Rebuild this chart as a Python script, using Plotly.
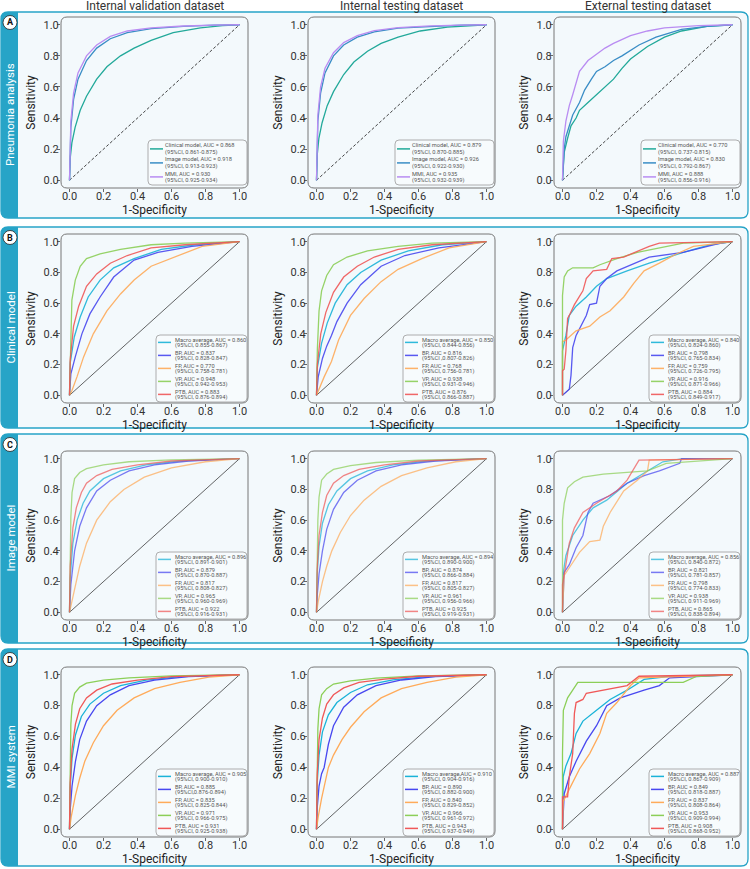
import plotly.graph_objects as go

W, H = 750, 869

COL_TITLES = ["Internal validation dataset", "Internal testing dataset", "External testing dataset"]
ROW_LETTERS = ["A", "B", "C", "D"]
ROW_LABELS = ["Pneumonia analysis", "Clinical model", "Image model", "MMI system"]
TICK_VALS = [0, 0.2, 0.4, 0.6, 0.8, 1.0]
TICK_TEXT = ["0.0", "0.2", "0.4", "0.6", "0.8", "1.0"]

# ---------------- Row A : pneumonia analysis ----------------
A1_clin_fpr = [0, 0.005, 0.014, 0.033, 0.063, 0.10, 0.16, 0.22, 0.30, 0.38, 0.48, 0.61, 0.77, 0.90, 1.0]
A1_clin_tpr = [0, 0.15, 0.24, 0.34, 0.45, 0.54, 0.65, 0.73, 0.80, 0.85, 0.90, 0.95, 0.98, 0.995, 1.0]
A1_img_fpr = [0, 0.003, 0.008, 0.024, 0.05, 0.10, 0.16, 0.24, 0.34, 0.48, 0.67, 0.85, 1.0]
A1_img_tpr = [0, 0.20, 0.34, 0.52, 0.65, 0.77, 0.85, 0.91, 0.95, 0.975, 0.99, 0.998, 1.0]
A1_mmi_fpr = [0, 0.003, 0.008, 0.024, 0.05, 0.10, 0.16, 0.24, 0.34, 0.48, 0.67, 0.85, 1.0]
A1_mmi_tpr = [0, 0.22, 0.38, 0.56, 0.69, 0.80, 0.87, 0.925, 0.96, 0.98, 0.992, 0.998, 1.0]

A2_clin_fpr = [0, 0.005, 0.014, 0.033, 0.063, 0.10, 0.16, 0.22, 0.30, 0.38, 0.48, 0.61, 0.77, 0.90, 1.0]
A2_clin_tpr = [0, 0.17, 0.27, 0.37, 0.48, 0.57, 0.68, 0.76, 0.83, 0.88, 0.92, 0.96, 0.985, 0.996, 1.0]
A2_img_fpr = [0, 0.003, 0.008, 0.024, 0.05, 0.10, 0.16, 0.24, 0.34, 0.48, 0.67, 0.85, 1.0]
A2_img_tpr = [0, 0.24, 0.38, 0.56, 0.69, 0.80, 0.87, 0.92, 0.955, 0.978, 0.99, 0.998, 1.0]
A2_mmi_fpr = [0, 0.003, 0.008, 0.024, 0.05, 0.10, 0.16, 0.24, 0.34, 0.48, 0.67, 0.85, 1.0]
A2_mmi_tpr = [0, 0.27, 0.42, 0.60, 0.72, 0.82, 0.885, 0.93, 0.962, 0.982, 0.993, 0.998, 1.0]

A3_clin_fpr = [0, 0.005, 0.01, 0.03, 0.05, 0.08, 0.10, 0.15, 0.20, 0.25, 0.30, 0.35, 0.40, 0.50, 0.60, 0.70, 0.85, 1.0]
A3_clin_tpr = [0, 0.10, 0.18, 0.27, 0.35, 0.40, 0.45, 0.50, 0.55, 0.60, 0.65, 0.72, 0.78, 0.86, 0.92, 0.96, 0.99, 1.0]
A3_img_fpr = [0, 0.01, 0.02, 0.04, 0.06, 0.10, 0.13, 0.17, 0.20, 0.25, 0.30, 0.35, 0.45, 0.55, 0.70, 0.85, 1.0]
A3_img_tpr = [0, 0.20, 0.28, 0.35, 0.42, 0.50, 0.58, 0.65, 0.70, 0.73, 0.77, 0.80, 0.87, 0.92, 0.97, 0.99, 1.0]
A3_mmi_fpr = [0, 0.005, 0.02, 0.04, 0.06, 0.08, 0.10, 0.15, 0.20, 0.25, 0.30, 0.40, 0.50, 0.60, 0.80, 1.0]
A3_mmi_tpr = [0, 0.25, 0.38, 0.48, 0.55, 0.62, 0.70, 0.77, 0.81, 0.85, 0.88, 0.93, 0.96, 0.98, 0.995, 1.0]

A1_LEG1 = ["Clinical model, AUC = 0.868", "Image model, AUC = 0.918", "MMI, AUC = 0.930"]
A1_LEG2 = ["(95%CI, 0.861-0.875)", "(95%CI, 0.913-0.923)", "(95%CI, 0.925-0.934)"]
A2_LEG1 = ["Clinical model, AUC = 0.879", "Image model, AUC = 0.926", "MMI, AUC = 0.935"]
A2_LEG2 = ["(95%CI, 0.870-0.885)", "(95%CI, 0.922-0.930)", "(95%CI, 0.932-0.939)"]
A3_LEG1 = ["Clinical model, AUC = 0.770", "Image model, AUC = 0.830", "MMI, AUC = 0.888"]
A3_LEG2 = ["(95%CI, 0.737-0.815)", "(95%CI, 0.792-0.867)", "(95%CI, 0.856-0.916)"]

# ---------------- Row B : clinical model ----------------
B1_macro_fpr = [0, 0.004, 0.028, 0.063, 0.11, 0.18, 0.26, 0.38, 0.54, 0.74, 1.0]
B1_macro_tpr = [0, 0.21, 0.38, 0.51, 0.64, 0.75, 0.83, 0.89, 0.95, 0.98, 1.0]
B1_bp_fpr = [0, 0.008, 0.034, 0.073, 0.12, 0.18, 0.26, 0.38, 0.52, 0.72, 1.0]
B1_bp_tpr = [0, 0.14, 0.25, 0.40, 0.53, 0.64, 0.77, 0.88, 0.93, 0.97, 1.0]
B1_fp_fpr = [0, 0.014, 0.044, 0.083, 0.14, 0.22, 0.30, 0.38, 0.48, 0.62, 0.78, 1.0]
B1_fp_tpr = [0, 0.03, 0.12, 0.25, 0.40, 0.55, 0.66, 0.75, 0.84, 0.90, 0.97, 1.0]
B1_vp_fpr = [0, 0.004, 0.008, 0.014, 0.034, 0.063, 0.10, 0.18, 0.30, 0.48, 0.68, 1.0]
B1_vp_tpr = [0, 0.25, 0.40, 0.62, 0.75, 0.84, 0.89, 0.92, 0.95, 0.98, 0.99, 1.0]
B1_ptb_fpr = [0, 0.004, 0.024, 0.054, 0.10, 0.16, 0.24, 0.34, 0.48, 0.68, 1.0]
B1_ptb_tpr = [0, 0.23, 0.45, 0.58, 0.71, 0.79, 0.86, 0.91, 0.96, 0.98, 1.0]

B2_macro_fpr = [0, 0.005, 0.03, 0.063, 0.11, 0.18, 0.26, 0.38, 0.54, 0.74, 1.0]
B2_macro_tpr = [0, 0.18, 0.34, 0.47, 0.60, 0.72, 0.80, 0.88, 0.94, 0.98, 1.0]
B2_bp_fpr = [0, 0.01, 0.035, 0.06, 0.088, 0.12, 0.18, 0.26, 0.38, 0.52, 0.72, 1.0]
B2_bp_tpr = [0, 0.12, 0.24, 0.32, 0.39, 0.48, 0.60, 0.72, 0.84, 0.91, 0.96, 1.0]
B2_fp_fpr = [0, 0.015, 0.045, 0.088, 0.13, 0.20, 0.28, 0.38, 0.48, 0.62, 0.78, 1.0]
B2_fp_tpr = [0, 0.04, 0.12, 0.22, 0.36, 0.52, 0.63, 0.74, 0.82, 0.89, 0.96, 1.0]
B2_vp_fpr = [0, 0.005, 0.015, 0.03, 0.06, 0.10, 0.18, 0.30, 0.48, 0.68, 1.0]
B2_vp_tpr = [0, 0.30, 0.55, 0.68, 0.78, 0.85, 0.90, 0.94, 0.97, 0.99, 1.0]
B2_ptb_fpr = [0, 0.005, 0.025, 0.055, 0.10, 0.16, 0.24, 0.34, 0.48, 0.68, 1.0]
B2_ptb_tpr = [0, 0.20, 0.40, 0.54, 0.67, 0.77, 0.84, 0.90, 0.95, 0.98, 1.0]

B3_macro_fpr = [0, 0, 0.02, 0.04, 0.08, 0.14, 0.20, 0.26, 0.38, 0.51, 0.71, 0.87, 1.0]
B3_macro_tpr = [0, 0.29, 0.39, 0.52, 0.58, 0.64, 0.71, 0.76, 0.81, 0.86, 0.93, 0.98, 1.0]
B3_bp_fpr = [0, 0.04, 0.05, 0.06, 0.08, 0.12, 0.14, 0.16, 0.20, 0.22, 0.26, 0.32, 0.42, 0.51, 0.71, 0.83, 0.93, 1.0]
B3_bp_tpr = [0, 0.04, 0.13, 0.31, 0.39, 0.47, 0.52, 0.59, 0.60, 0.71, 0.76, 0.81, 0.86, 0.90, 0.93, 0.96, 0.99, 1.0]
B3_fp_fpr = [0, 0, 0.02, 0.08, 0.16, 0.22, 0.28, 0.36, 0.42, 0.48, 0.57, 0.67, 0.77, 1.0]
B3_fp_tpr = [0, 0.35, 0.36, 0.42, 0.45, 0.51, 0.55, 0.64, 0.73, 0.81, 0.86, 0.92, 0.97, 1.0]
B3_vp_fpr = [0, 0, 0, 0.01, 0.03, 0.06, 0.18, 0.22, 0.32, 0.44, 0.57, 0.71, 1.0]
B3_vp_tpr = [0, 0.37, 0.65, 0.77, 0.81, 0.83, 0.83, 0.85, 0.89, 0.93, 0.96, 0.99, 1.0]
B3_ptb_fpr = [0, 0, 0.01, 0.02, 0.03, 0.04, 0.07, 0.10, 0.12, 0.14, 0.18, 0.26, 0.29, 0.36, 0.51, 0.57, 1.0]
B3_ptb_tpr = [0, 0.16, 0.17, 0.29, 0.50, 0.52, 0.59, 0.65, 0.68, 0.76, 0.81, 0.82, 0.89, 0.90, 0.97, 0.99, 1.0]

B1_LEG1 = ["Macro average, AUC = 0.860", "BP, AUC = 0.837", "FP, AUC = 0.770", "VP, AUC = 0.948", "PTB, AUC = 0.883"]
B1_LEG2 = ["(95%CI, 0.855-0.867)", "(95%CI, 0.828-0.847)", "(95%CI, 0.758-0.781)", "(95%CI, 0.942-0.953)", "(95%CI, 0.876-0.894)"]
B2_LEG1 = ["Macro average, AUC = 0.850", "BP, AUC = 0.816", "FP, AUC = 0.768", "VP, AUC = 0.938", "PTB, AUC = 0.876"]
B2_LEG2 = ["(95%CI, 0.844-0.856)", "(95%CI ,0.807-0.826)", "(95%CI, 0.756-0.781)", "(95%CI, 0.931-0.946)", "(95%CI, 0.866-0.887)"]
B3_LEG1 = ["Macro average, AUC = 0.840", "BP, AUC = 0.798", "FP, AUC = 0.759", "VP, AUC = 0.916", "PTB, AUC = 0.884"]
B3_LEG2 = ["(95%CI, 0.824-0.860)", "(95%CI, 0.765-0.834)", "(95%CI, 0.726-0.795)", "(95%CI, 0.871-0.966)", "(95%CI, 0.849-0.917)"]

# ---------------- Row C : image model ----------------
C1_macro_fpr = [0, 0.004, 0.02, 0.045, 0.08, 0.12, 0.20, 0.30, 0.45, 0.65, 1.0]
C1_macro_tpr = [0, 0.22, 0.45, 0.60, 0.71, 0.79, 0.87, 0.92, 0.96, 0.985, 1.0]
C1_bp_fpr = [0, 0.008, 0.03, 0.06, 0.10, 0.16, 0.24, 0.35, 0.50, 0.70, 1.0]
C1_bp_tpr = [0, 0.18, 0.40, 0.56, 0.68, 0.79, 0.86, 0.92, 0.96, 0.985, 1.0]
C1_fp_fpr = [0, 0.01, 0.03, 0.06, 0.10, 0.16, 0.24, 0.32, 0.44, 0.60, 0.80, 1.0]
C1_fp_tpr = [0, 0.05, 0.15, 0.30, 0.45, 0.60, 0.72, 0.80, 0.88, 0.94, 0.98, 1.0]
C1_vp_fpr = [0, 0.003, 0.008, 0.015, 0.03, 0.06, 0.10, 0.20, 0.35, 0.60, 1.0]
C1_vp_tpr = [0, 0.40, 0.62, 0.78, 0.87, 0.91, 0.935, 0.96, 0.98, 0.992, 1.0]
C1_ptb_fpr = [0, 0.004, 0.02, 0.04, 0.07, 0.10, 0.16, 0.25, 0.40, 0.60, 1.0]
C1_ptb_tpr = [0, 0.30, 0.55, 0.68, 0.78, 0.84, 0.89, 0.93, 0.96, 0.985, 1.0]

C2_macro_fpr = [0, 0.004, 0.015, 0.035, 0.07, 0.12, 0.20, 0.30, 0.45, 0.65, 1.0]
C2_macro_tpr = [0, 0.25, 0.43, 0.58, 0.70, 0.79, 0.87, 0.92, 0.96, 0.985, 1.0]
C2_bp_fpr = [0, 0.005, 0.015, 0.035, 0.06, 0.10, 0.16, 0.24, 0.35, 0.50, 0.70, 1.0]
C2_bp_tpr = [0, 0.12, 0.25, 0.40, 0.54, 0.67, 0.78, 0.86, 0.92, 0.96, 0.985, 1.0]
C2_fp_fpr = [0, 0.01, 0.035, 0.06, 0.09, 0.14, 0.20, 0.28, 0.38, 0.50, 0.65, 0.82, 1.0]
C2_fp_tpr = [0, 0.07, 0.20, 0.30, 0.40, 0.52, 0.63, 0.73, 0.82, 0.89, 0.94, 0.98, 1.0]
C2_vp_fpr = [0, 0.003, 0.008, 0.015, 0.03, 0.06, 0.10, 0.20, 0.35, 0.60, 1.0]
C2_vp_tpr = [0, 0.40, 0.60, 0.75, 0.86, 0.90, 0.93, 0.955, 0.975, 0.99, 1.0]
C2_ptb_fpr = [0, 0.004, 0.015, 0.035, 0.06, 0.10, 0.16, 0.25, 0.40, 0.60, 1.0]
C2_ptb_tpr = [0, 0.28, 0.50, 0.65, 0.76, 0.84, 0.89, 0.93, 0.96, 0.985, 1.0]

C3_macro_fpr = [0, 0.005, 0.02, 0.06, 0.12, 0.18, 0.26, 0.38, 0.50, 0.59, 0.71, 1.0]
C3_macro_tpr = [0, 0.26, 0.37, 0.50, 0.60, 0.68, 0.73, 0.84, 0.92, 0.98, 1.0, 1.0]
C3_bp_fpr = [0, 0.01, 0.04, 0.08, 0.12, 0.15, 0.18, 0.28, 0.38, 0.48, 0.57, 0.69, 0.70, 1.0]
C3_bp_tpr = [0, 0.26, 0.31, 0.42, 0.50, 0.65, 0.71, 0.76, 0.84, 0.89, 0.92, 0.97, 1.0, 1.0]
C3_fp_fpr = [0, 0.01, 0.04, 0.10, 0.16, 0.22, 0.24, 0.28, 0.36, 0.44, 0.50, 0.51, 1.0]
C3_fp_tpr = [0, 0.24, 0.29, 0.39, 0.46, 0.47, 0.56, 0.65, 0.79, 0.86, 0.92, 0.99, 1.0]
C3_vp_fpr = [0, 0, 0.01, 0.03, 0.07, 0.12, 0.24, 0.50, 0.61, 1.0]
C3_vp_tpr = [0, 0.60, 0.71, 0.81, 0.85, 0.88, 0.90, 0.92, 0.97, 1.0]
C3_ptb_fpr = [0, 0, 0.02, 0.04, 0.07, 0.12, 0.20, 0.32, 0.38, 0.42, 0.45, 1.0]
C3_ptb_tpr = [0, 0.18, 0.31, 0.45, 0.55, 0.65, 0.71, 0.79, 0.86, 0.94, 0.99, 1.0]

C1_LEG1 = ["Macro average, AUC = 0.896", "BP, AUC = 0.879", "FP, AUC = 0.817", "VP, AUC = 0.965", "PTB, AUC = 0.922"]
C1_LEG2 = ["(95%CI, 0.891-0.901)", "(95%CI, 0.870-0.887)", "(95%CI, 0.808-0.827)", "(95%CI, 0.960-0.969)", "(95%CI, 0.916-0.931)"]
C2_LEG1 = ["Macro average, AUC = 0.894", "BP, AUC = 0.874", "FP, AUC = 0.817", "VP, AUC = 0.961", "PTB, AUC = 0.925"]
C2_LEG2 = ["(95%CI, 0.890-0.900)", "(95%CI, 0.866-0.884)", "(95%CI, 0.805-0.827)", "(95%CI, 0.956-0.966)", "(95%CI, 0.919-0.931)"]
C3_LEG1 = ["Macro average, AUC = 0.856", "BP, AUC = 0.821", "FP, AUC = 0.798", "VP, AUC = 0.938", "PTB, AUC = 0.865"]
C3_LEG2 = ["(95%CI, 0.840-0.872)", "(95%CI, 0.781-0.857)", "(95%CI, 0.774-0.833)", "(95%CI, 0.911-0.969)", "(95%CI, 0.838-0.894)"]

# ---------------- Row D : MMI system ----------------
D1_macro_fpr = [0, 0.004, 0.015, 0.035, 0.07, 0.12, 0.20, 0.30, 0.45, 0.65, 1.0]
D1_macro_tpr = [0, 0.27, 0.46, 0.61, 0.73, 0.81, 0.88, 0.93, 0.965, 0.988, 1.0]
D1_bp_fpr = [0, 0.005, 0.015, 0.035, 0.06, 0.10, 0.16, 0.24, 0.35, 0.50, 0.70, 1.0]
D1_bp_tpr = [0, 0.14, 0.28, 0.44, 0.58, 0.70, 0.80, 0.87, 0.93, 0.965, 0.988, 1.0]
D1_fp_fpr = [0, 0.01, 0.035, 0.06, 0.09, 0.14, 0.20, 0.28, 0.38, 0.50, 0.65, 0.82, 1.0]
D1_fp_tpr = [0, 0.08, 0.22, 0.33, 0.44, 0.56, 0.67, 0.77, 0.85, 0.91, 0.95, 0.985, 1.0]
D1_vp_fpr = [0, 0.003, 0.008, 0.015, 0.03, 0.06, 0.10, 0.20, 0.35, 0.60, 1.0]
D1_vp_tpr = [0, 0.45, 0.68, 0.80, 0.88, 0.92, 0.945, 0.965, 0.98, 0.993, 1.0]
D1_ptb_fpr = [0, 0.004, 0.015, 0.035, 0.06, 0.10, 0.16, 0.25, 0.40, 0.60, 1.0]
D1_ptb_tpr = [0, 0.30, 0.52, 0.68, 0.78, 0.85, 0.90, 0.94, 0.965, 0.988, 1.0]

D2_macro_fpr = [0, 0.004, 0.015, 0.035, 0.07, 0.12, 0.20, 0.30, 0.45, 0.65, 1.0]
D2_macro_tpr = [0, 0.30, 0.48, 0.63, 0.74, 0.82, 0.885, 0.935, 0.967, 0.988, 1.0]
D2_bp_fpr = [0, 0.005, 0.015, 0.03, 0.045, 0.07, 0.10, 0.16, 0.24, 0.35, 0.50, 0.70, 1.0]
D2_bp_tpr = [0, 0.15, 0.28, 0.36, 0.40, 0.55, 0.67, 0.79, 0.87, 0.93, 0.966, 0.988, 1.0]
D2_fp_fpr = [0, 0.01, 0.03, 0.05, 0.07, 0.10, 0.15, 0.20, 0.28, 0.38, 0.50, 0.65, 0.82, 1.0]
D2_fp_tpr = [0, 0.08, 0.20, 0.30, 0.40, 0.48, 0.58, 0.66, 0.76, 0.85, 0.91, 0.95, 0.985, 1.0]
D2_vp_fpr = [0, 0.003, 0.008, 0.015, 0.03, 0.06, 0.10, 0.20, 0.35, 0.60, 1.0]
D2_vp_tpr = [0, 0.42, 0.65, 0.78, 0.87, 0.91, 0.94, 0.96, 0.978, 0.992, 1.0]
D2_ptb_fpr = [0, 0.004, 0.015, 0.035, 0.06, 0.10, 0.16, 0.25, 0.40, 0.60, 1.0]
D2_ptb_tpr = [0, 0.35, 0.58, 0.72, 0.81, 0.87, 0.915, 0.95, 0.972, 0.99, 1.0]

D3_macro_fpr = [0, 0.004, 0.02, 0.05, 0.08, 0.12, 0.20, 0.28, 0.38, 0.48, 0.63, 1.0]
D3_macro_tpr = [0, 0.34, 0.41, 0.49, 0.62, 0.70, 0.77, 0.84, 0.90, 0.97, 0.99, 1.0]
D3_bp_fpr = [0, 0.01, 0.04, 0.08, 0.14, 0.20, 0.26, 0.34, 0.48, 0.57, 0.63, 0.79, 1.0]
D3_bp_tpr = [0, 0.23, 0.34, 0.44, 0.57, 0.67, 0.80, 0.85, 0.90, 0.93, 0.98, 0.99, 1.0]
D3_fp_fpr = [0, 0.004, 0.04, 0.10, 0.16, 0.22, 0.26, 0.32, 0.40, 0.45, 1.0]
D3_fp_tpr = [0, 0.18, 0.26, 0.39, 0.49, 0.62, 0.75, 0.82, 0.93, 0.98, 1.0]
D3_vp_fpr = [0, 0, 0.005, 0.03, 0.06, 0.09, 0.71, 0.79, 1.0]
D3_vp_tpr = [0, 0.49, 0.77, 0.85, 0.90, 0.95, 0.95, 0.99, 1.0]
D3_ptb_fpr = [0, 0, 0.03, 0.04, 0.06, 0.07, 0.08, 0.12, 0.14, 0.24, 0.38, 0.45, 1.0]
D3_ptb_tpr = [0, 0.21, 0.21, 0.34, 0.49, 0.75, 0.82, 0.84, 0.88, 0.90, 0.93, 0.99, 1.0]

D1_LEG1 = ["Macro average, AUC = 0.905", "BP, AUC = 0.885", "FP, AUC = 0.835", "VP, AUC = 0.971", "PTB, AUC = 0.931"]
D1_LEG2 = ["(95%CI, 0.900-0.910)", "(95%CI,0.876-0.894)", "(95%CI, 0.825-0.844)", "(95%CI, 0.966-0.975)", "(95%CI, 0.925-0.938)"]
D2_LEG1 = ["Macro average,AUC = 0.910", "BP, AUC = 0.890", "FP, AUC = 0.840", "VP, AUC = 0.966", "PTB, AUC = 0.943"]
D2_LEG2 = ["(95%CI, 0.904-0.916)", "(95%CI, 0.882-0.900)", "(95%CI, 0.829-0.852)", "(95%CI, 0.961-0.972)", "(95%CI, 0.937-0.949)"]
D3_LEG1 = ["Macro average, AUC = 0.887", "BP, AUC = 0.849", "FP, AUC = 0.837", "VP, AUC = 0.953", "PTB, AUC = 0.908"]
D3_LEG2 = ["(95%CI, 0.867-0.909)", "(95%CI, 0.818-0.887)", "(95%CI, 0.808-0.864)", "(95%CI, 0.909-0.994)", "(95%CI, 0.868-0.952)"]

# ---------------- styles ----------------
A_COLORS = ["#22a99a", "#3a8dc6", "#b98cf2"]
CLS_COLORS = ["#1ab3d8", "#4848f0", "#ffab5a", "#8ccf58", "#f05858"]
ROW_OPACITY = [1.0, 0.9, 0.72, 1.0]
TEAL = "#27a4c7"
BOX_FILL = "#f3f9fc"
FONT = "Roboto"

def series_A(p):
    g = globals()
    return [(g[f"A{p}_{k}_fpr"], g[f"A{p}_{k}_tpr"]) for k in ("clin", "img", "mmi")]

def series_cls(r, p):
    g = globals()
    return [(g[f"{r}{p}_{k}_fpr"], g[f"{r}{p}_{k}_tpr"]) for k in ("macro", "bp", "fp", "vp", "ptb")]

PANELS = []
for p in (1, 2, 3):
    PANELS.append((0, p - 1, series_A(p), A_COLORS, globals()[f"A{p}_LEG1"], globals()[f"A{p}_LEG2"]))
for ri, r in enumerate(("B", "C", "D"), start=1):
    for p in (1, 2, 3):
        PANELS.append((ri, p - 1, series_cls(r, p), CLS_COLORS,
                       globals()[f"{r}{p}_LEG1"], globals()[f"{r}{p}_LEG2"]))

# ---------------- geometry (pixels) ----------------
COLS_PX = [(61, 248), (308, 495), (554, 741)]
ROWS_PX = [(17, 188), (234, 403), (451, 620), (667, 837)]
BOXES_PX = [(12, 218), (227, 428), (434, 643), (649, 866)]

def fx(p):
    return p / W

def fy(p):
    return 1 - p / H

def rrect(x0, y0, x1, y1, r):
    X0, X1, Y0, Y1 = fx(x0), fx(x1), fy(y0), fy(y1)
    rx, ry = r / W, r / H
    return (f"M{X0+rx},{Y0} L{X1-rx},{Y0} Q{X1},{Y0} {X1},{Y0-ry} "
            f"L{X1},{Y1+ry} Q{X1},{Y1} {X1-rx},{Y1} L{X0+rx},{Y1} "
            f"Q{X0},{Y1} {X0},{Y1+ry} L{X0},{Y0-ry} Q{X0},{Y0} {X0+rx},{Y0} Z")

def lrect(x0, y0, x1, y1, r):
    X0, X1, Y0, Y1 = fx(x0), fx(x1), fy(y0), fy(y1)
    rx, ry = r / W, r / H
    return (f"M{X0+rx},{Y0} L{X1},{Y0} L{X1},{Y1} L{X0+rx},{Y1} "
            f"Q{X0},{Y1} {X0},{Y1+ry} L{X0},{Y0-ry} Q{X0},{Y0} {X0+rx},{Y0} Z")

fig = go.Figure()
shapes = []
annotations = []
layout = {}

# row boxes
for ri, (t, b) in enumerate(BOXES_PX):
    shapes.append(dict(type="path", path=rrect(1, t, 748, b, 7), xref="paper", yref="paper",
                       fillcolor=BOX_FILL, line=dict(color=TEAL, width=1.3), layer="below"))
    shapes.append(dict(type="path", path=lrect(1, t, 18, b, 7), xref="paper", yref="paper",
                       fillcolor=TEAL, line=dict(width=0), layer="below"))
    shapes.append(dict(type="circle", xref="paper", yref="paper",
                       x0=fx(3), x1=fx(17), y0=fy(t + 17.5), y1=fy(t + 3.5),
                       fillcolor="white", line=dict(color="#222", width=0.8), layer="above"))
    annotations.append(dict(text=f"<b>{ROW_LETTERS[ri]}</b>", x=fx(10), y=fy(t + 10.5),
                            xref="paper", yref="paper", showarrow=False,
                            font=dict(family=FONT, size=9, color="#111"),
                            xanchor="center", yanchor="middle"))
    annotations.append(dict(text=ROW_LABELS[ri], x=fx(10), y=fy((t + b) / 2),
                            xref="paper", yref="paper", showarrow=False, textangle=-90,
                            font=dict(family=FONT, size=11.5, color="white"),
                            xanchor="center", yanchor="middle"))

# column titles
for ci, (l, r) in enumerate(COLS_PX):
    annotations.append(dict(text=COL_TITLES[ci], x=fx((l + r) / 2), y=fy(6.5),
                            xref="paper", yref="paper", showarrow=False,
                            font=dict(family=FONT, size=12, color="#333"),
                            xanchor="center", yanchor="middle"))

for k, (ri, ci, series, colors, leg1, leg2) in enumerate(PANELS):
    idx = k + 1
    xa = "x" if idx == 1 else f"x{idx}"
    ya = "y" if idx == 1 else f"y{idx}"
    l, r = COLS_PX[ci]
    t, b = ROWS_PX[ri]
    op = ROW_OPACITY[ri]

    diag = dict(color="#111", width=0.8, dash="3px,2px") if ri == 0 else dict(color="#222", width=0.7)
    fig.add_trace(go.Scatter(x=[0, 1], y=[0, 1], mode="lines", line=diag,
                             xaxis=xa, yaxis=ya, showlegend=False, hoverinfo="skip"))
    for (fpr, tpr), col, n1 in zip(series, colors, leg1):
        fig.add_trace(go.Scatter(x=fpr, y=tpr, mode="lines", name=n1,
                                 line=dict(color=col, width=1.3), opacity=op,
                                 xaxis=xa, yaxis=ya, showlegend=False))

    axis_common = dict(range=[-0.05, 1.05], showgrid=False, zeroline=False, showline=False,
                       ticks="outside", ticklen=3, tickwidth=1, tickcolor="#666",
                       tickvals=TICK_VALS, ticktext=TICK_TEXT,
                       tickfont=dict(family=FONT, size=11, color="#333"), fixedrange=True)
    layout["xaxis" if idx == 1 else f"xaxis{idx}"] = dict(
        axis_common, domain=[fx(l), fx(r)], anchor=ya, ticklabelstandoff=-5,
        title=dict(text="1-Specificity", font=dict(family=FONT, size=12, color="#222"), standoff=2))
    layout["yaxis" if idx == 1 else f"yaxis{idx}"] = dict(
        axis_common, domain=[fy(b), fy(t)], anchor=xa, ticklabelstandoff=-4,
        title=dict(text="Sensitivity", font=dict(family=FONT, size=12, color="#222"), standoff=5))

    # plot frame (rounded)
    shapes.append(dict(type="path", path=rrect(l, t, r, b, 6), xref="paper", yref="paper",
                       line=dict(color="#777", width=1), layer="above"))

    # legend box
    n = len(series)
    if ri == 0:
        lw, lh, pitch, d1, d2, tx = 99, 45, 14, 5.5, 12.3, 16
        lb = b - 3
    else:
        lw, lh, pitch, d1, d2, tx = 91, 67, 13, 4.6, 10.2, 18
        lb = b - 1
    lr_ = r - 1
    ll = lr_ - lw
    lt = lb - lh
    shapes.append(dict(type="path", path=rrect(ll, lt, lr_, lb, 4), xref="paper", yref="paper",
                       fillcolor="#f7fbfd", line=dict(color="#9a9a9a", width=0.8), layer="above"))
    for i in range(n):
        y1 = lt + d1 + i * pitch
        y2 = lt + d2 + i * pitch
        ys = (y1 + y2) / 2
        shapes.append(dict(type="line", xref="paper", yref="paper",
                           x0=fx(ll + 2), x1=fx(ll + 15), y0=fy(ys), y1=fy(ys),
                           line=dict(color=colors[i], width=1.5), opacity=op, layer="above"))
        for yy, txt in ((y1, leg1[i]), (y2, leg2[i])):
            annotations.append(dict(text=txt, x=fx(ll + tx), y=fy(yy), xref="paper", yref="paper",
                                    showarrow=False, xanchor="left", yanchor="middle",
                                    font=dict(family=FONT, size=5.7, color="#555"), borderpad=0))

fig.update_layout(
    width=W, height=H, autosize=False,
    margin=dict(l=0, r=0, t=0, b=0),
    paper_bgcolor="white", plot_bgcolor="rgba(0,0,0,0)",
    font=dict(family=FONT, color="#333"),
    shapes=shapes, annotations=annotations, showlegend=False,
    **layout,
)

fig.write_html("out.html", config={"displayModeBar": False},
               post_script="document.body.style.margin='0px';")
